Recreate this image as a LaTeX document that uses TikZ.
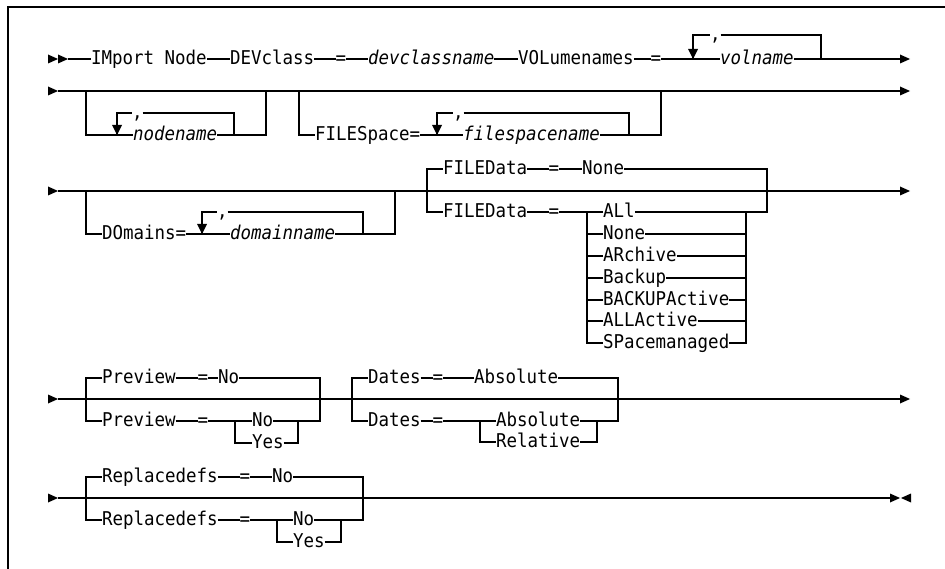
\documentclass[tikz,border=0pt]{standalone}
\usepackage{fontspec}
\setmonofont{DejaVu Sans Mono}[FakeStretch=0.92]
\newcommand\dgfont{\ttfamily\fontsize{19}{22}\selectfont}
\tikzset{
  x=1pt, y=-1pt,
  rr/.style={line width=1.1pt, line cap=butt},
  frm/.style={line width=1.8pt},
  tb/.style={inner sep=0pt, outer sep=0pt, text height=14pt, text depth=3.6pt},
  t/.style={tb, anchor=west, font=\dgfont},
  ti/.style={tb, anchor=west, font=\dgfont\itshape},
  eq/.style={tb, anchor=center, font=\dgfont},
  rtri/.pic={\fill (0,-4.5) -- (10,0) -- (0,4.5) -- cycle;},
  ltri/.pic={\fill (0,-4.5) -- (-10,0) -- (0,4.5) -- cycle;},
  dtri/.pic={\fill (-5,-10) -- (0,0) -- (5,-10) -- cycle;}
}
\begin{document}
\begin{tikzpicture}
\useasboundingbox (0,0) rectangle (945,569);
\fill[white] (0,0) rectangle (945,569);
\draw[frm] (945,7) -- (8,7) -- (8,569);

% ---------------- Row 1 ----------------
\pic at (48,59) {rtri};
\pic at (58,59) {rtri};
\coordinate (r1a) at (68,59);
\node[t] (imp) at (91,59) {IMport Node};
\node[t] (dev) at (230,59) {DEVclass};
\node[eq] (eq1) at (341,59) {=};
\node[ti] (dcn) at (368,59) {devclassname};
\node[t] (vol) at (518,59) {VOLumenames};
\node[eq] (eq2) at (656,59) {=};
\coordinate (v1j) at (693,59);
\node[t] (vc) at (710,35) {,};
\node[ti] (vn) at (720,59) {volname};
\coordinate (v1r) at (821,59);
\coordinate (r1e) at (900,59);
\draw[rr] (r1a) -- (imp.west);
\draw[rr] (imp.east) -- (dev.west);
\draw[rr] (dev.east) -- (eq1.west);
\draw[rr] (eq1.east) -- (dcn.west);
\draw[rr] (dcn.east) -- (vol.west);
\draw[rr] (vol.east) -- (eq2.west);
\draw[rr] (eq2.east) -- (vn.west);
\draw[rr] (vn.east) -- (r1e);
\draw[rr] (v1j) |- (vc.west);
\draw[rr] (vc.east) -| (v1r);
\pic at (v1j) {dtri};
\pic at (r1e) {rtri};

% ---------------- Row 2 ----------------
\pic at (48,91) {rtri};
\coordinate (r2a) at (58,91);
\coordinate (r2e) at (900,91);
\draw[rr] (r2a) -- (r2e);
\pic at (r2e) {rtri};
% nodename group
\coordinate (a1) at (86,91);
\coordinate (a2) at (266,91);
\coordinate (aj) at (117,135);
\node[t] (ac) at (132,113) {,};
\node[ti] (nn) at (133,135) {nodename};
\coordinate (ar) at (234,135);
\draw[rr] (a1) |- (nn.west);
\draw[rr] (nn.east) -| (a2);
\draw[rr] (aj) |- (ac.west);
\draw[rr] (ac.east) -| (ar);
\pic at (aj) {dtri};
% FILESpace group
\coordinate (b1) at (299,91);
\coordinate (b2) at (661,91);
\node[t] (fs) at (315,135) {FILESpace=};
\coordinate (bj) at (437,135);
\node[t] (bc) at (453,113) {,};
\node[ti] (fsn) at (463,135) {filespacename};
\coordinate (br) at (629,135);
\draw[rr] (b1) |- (fs.west);
\draw[rr] (fs.east) -- (fsn.west);
\draw[rr] (fsn.east) -| (b2);
\draw[rr] (bj) |- (bc.west);
\draw[rr] (bc.east) -| (br);
\pic at (bj) {dtri};

% ---------------- Row 3 ----------------
\pic at (48,191) {rtri};
\coordinate (r3a) at (58,191);
\coordinate (r3e) at (900,191);
\draw[rr] (r3a) -- (r3e);
\pic at (r3e) {rtri};
% DOmains group
\coordinate (c1) at (86,191);
\coordinate (c2) at (395,191);
\node[t] (dom) at (102,234) {DOmains=};
\coordinate (cj) at (202,234);
\node[t] (cc) at (217,212) {,};
\node[ti] (dn) at (230,234) {domainname};
\coordinate (cr) at (363,234);
\draw[rr] (c1) |- (dom.west);
\draw[rr] (dom.east) -- (dn.west);
\draw[rr] (dn.east) -| (c2);
\draw[rr] (cj) |- (cc.west);
\draw[rr] (cc.east) -| (cr);
\pic at (cj) {dtri};
% FILEData group
\coordinate (dtl) at (427,169);
\coordinate (dbl) at (427,212);
\coordinate (dtr) at (767,169);
\coordinate (dbr) at (767,212);
\node[t] (fd1) at (443,169) {FILEData};
\node[eq] (deq1) at (554,169) {=};
\node[t] (dnone) at (582,169) {None};
\node[t] (fd2) at (443,212) {FILEData};
\node[eq] (deq2) at (554,212) {=};
\coordinate (cl) at (587,212);
\coordinate (crt) at (746,212);
\node[t] (i1) at (603,212) {ALl};
\node[t] (i2) at (603,234) {None};
\node[t] (i3) at (603,256) {ARchive};
\node[t] (i4) at (603,278) {Backup};
\node[t] (i5) at (603,300) {BACKUPActive};
\node[t] (i6) at (603,321) {ALLActive};
\node[t] (i7) at (603,343) {SPacemanaged};
\draw[rr] (fd1.west) -- (dtl) -- (dbl) -- (fd2.west);
\draw[rr] (fd1.east) -- (deq1.west);
\draw[rr] (deq1.east) -- (dnone.west);
\draw[rr] (dnone.east) -- (dtr) -- (dbr) -- (i1.east);
\draw[rr] (fd2.east) -- (deq2.west);
\draw[rr] (deq2.east) -- (i1.west);
\draw[rr] (cl) |- (i7.west);
\draw[rr] (crt) |- (i7.east);
\foreach \k in {2,...,6} {
  \draw[rr] (i\k.west) -- (i\k.west -| cl);
  \draw[rr] (i\k.east) -- (i\k.east -| crt);
}

% ---------------- Row 4 ----------------
\pic at (48,399) {rtri};
\coordinate (r4a) at (58,399);
\coordinate (r4e) at (900,399);
\draw[rr] (r4a) -- (r4e);
\pic at (r4e) {rtri};
% Preview group
\coordinate (ptl) at (86,378);
\coordinate (pbl) at (86,421);
\coordinate (ptr) at (320,378);
\coordinate (pbr) at (320,421);
\node[t] (p1) at (102,378) {Preview};
\node[eq] (peq1) at (203,378) {=};
\node[t] (pno1) at (218,378) {No};
\node[t] (p2) at (102,421) {Preview};
\node[eq] (peq2) at (203,421) {=};
\coordinate (psl) at (235,421);
\coordinate (psr) at (298,421);
\node[t] (pno2) at (252,421) {No};
\node[t] (pyes) at (252,443) {Yes};
\draw[rr] (p1.west) -- (ptl) -- (pbl) -- (p2.west);
\draw[rr] (p1.east) -- (peq1.west);
\draw[rr] (peq1.east) -- (pno1.west);
\draw[rr] (pno1.east) -- (ptr) -- (pbr) -- (pno2.east);
\draw[rr] (p2.east) -- (peq2.west);
\draw[rr] (peq2.east) -- (pno2.west);
\draw[rr] (psl) |- (pyes.west);
\draw[rr] (pyes.east) -| (psr);
% Dates group
\coordinate (qtl) at (352,378);
\coordinate (qbl) at (352,421);
\coordinate (qtr) at (618,378);
\coordinate (qbr) at (618,421);
\node[t] (q1) at (368,378) {Dates};
\node[eq] (qeq1) at (438,378) {=};
\node[t] (qabs1) at (474,378) {Absolute};
\node[t] (q2) at (368,421) {Dates};
\node[eq] (qeq2) at (438,421) {=};
\coordinate (qsl) at (480,421);
\coordinate (qsr) at (597,421);
\node[t] (qabs2) at (496,421) {Absolute};
\node[t] (qrel) at (496,442) {Relative};
\draw[rr] (q1.west) -- (qtl) -- (qbl) -- (q2.west);
\draw[rr] (q1.east) -- (qeq1.west);
\draw[rr] (qeq1.east) -- (qabs1.west);
\draw[rr] (qabs1.east) -- (qtr) -- (qbr) -- (qabs2.east);
\draw[rr] (q2.east) -- (qeq2.west);
\draw[rr] (qeq2.east) -- (qabs2.west);
\draw[rr] (qsl) |- (qrel.west);
\draw[rr] (qrel.east) -| (qsr);

% ---------------- Row 5 ----------------
\pic at (48,498) {rtri};
\coordinate (r5a) at (58,498);
\coordinate (r5e) at (890,498);
\draw[rr] (r5a) -- (r5e);
\pic at (r5e) {rtri};
\pic at (911,498) {ltri};
% Replacedefs group
\coordinate (stl) at (86,477);
\coordinate (sbl) at (86,520);
\coordinate (str) at (363,477);
\coordinate (sbr) at (363,520);
\node[t] (s1) at (102,477) {Replacedefs};
\node[eq] (seq1) at (245,477) {=};
\node[t] (sno1) at (272,477) {No};
\node[t] (s2) at (102,520) {Replacedefs};
\node[eq] (seq2) at (245,520) {=};
\coordinate (ssl) at (277,520);
\coordinate (ssr) at (341,520);
\node[t] (sno2) at (293,520) {No};
\node[t] (syes) at (293,542) {Yes};
\draw[rr] (s1.west) -- (stl) -- (sbl) -- (s2.west);
\draw[rr] (s1.east) -- (seq1.west);
\draw[rr] (seq1.east) -- (sno1.west);
\draw[rr] (sno1.east) -- (str) -- (sbr) -- (sno2.east);
\draw[rr] (s2.east) -- (seq2.west);
\draw[rr] (seq2.east) -- (sno2.west);
\draw[rr] (ssl) |- (syes.west);
\draw[rr] (syes.east) -| (ssr);
\end{tikzpicture}
\end{document}
